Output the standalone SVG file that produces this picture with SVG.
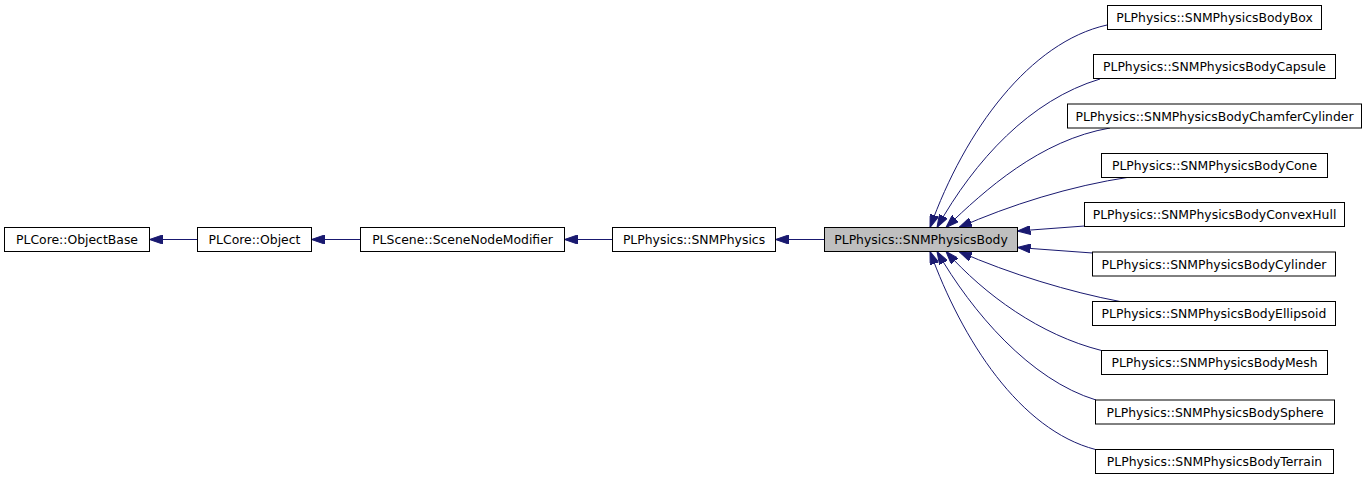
<svg xmlns="http://www.w3.org/2000/svg" width="1368" height="479" viewBox="0 0 1368 479">
<style>
  .node rect { fill: #ffffff; stroke: #000000; stroke-width: 1; }
  .node.cur rect { fill: #bfbfbf; }
  .node text { font-family: "DejaVu Sans", "Liberation Sans", sans-serif; font-size: 12.4px; fill: #000000; text-anchor: middle; }
  .edges path { fill: none; stroke: #191970; stroke-width: 1; marker-end: url(#arr); }
</style>
<defs>
  <marker id="arr" viewBox="0 0 13 9" refX="13" refY="4.5" markerWidth="13" markerHeight="9" markerUnits="userSpaceOnUse" orient="auto">
    <path d="M0,0 L13,4.5 L0,9 z" fill="#191970" stroke="#191970" stroke-width="1"/>
  </marker>
</defs>
<rect width="1368" height="479" fill="#ffffff"/>
<g class="edges">
  <path d="M197.5,239.5 L149.5,239.5"/>
  <path d="M360.5,239.5 L311.5,239.5"/>
  <path d="M612.5,239.5 L564.5,239.5"/>
  <path d="M824.5,239.5 L775.5,239.5"/>
  <path d="M1107,25 C1030,42 965,130 930,227.5"/>
  <path d="M1100,79 C1030,100 975,160 937,227.5"/>
  <path d="M1110,128 C1040,140 985,190 946,227.5"/>
  <path d="M1130,177 C1070,186 1010,205 959,227.5"/>
  <path d="M1084.5,226 L1017.5,231"/>
  <path d="M1092.5,253 L1017.5,247.5"/>
  <path d="M1120,301.5 C1070,292 1010,274 959,251.5"/>
  <path d="M1101.5,350.5 C1040,335 985,295 946,251.5"/>
  <path d="M1096,400 C1030,380 972,312 937,251.5"/>
  <path d="M1095.5,449.5 C1020,430 962,340 930,251.5"/>
</g>
<g id="node-objectbase" class="node"><rect x="4.5" y="227.5" width="145" height="24"/><text x="77" y="244">PLCore::ObjectBase</text></g>
<g id="node-object" class="node"><rect x="197.5" y="227.5" width="114" height="24"/><text x="254.5" y="244">PLCore::Object</text></g>
<g id="node-scenenodemodifier" class="node"><rect x="360.5" y="227.5" width="204" height="24"/><text x="462.5" y="244">PLScene::SceneNodeModifier</text></g>
<g id="node-snmphysics" class="node"><rect x="612.5" y="227.5" width="163" height="24"/><text x="694" y="244">PLPhysics::SNMPhysics</text></g>
<g id="node-snmphysicsbody" class="node cur"><rect x="824.5" y="227.5" width="193" height="24"/><text x="921" y="244">PLPhysics::SNMPhysicsBody</text></g>
<g id="node-box" class="node"><rect x="1107.5" y="5.5" width="214" height="24"/><text x="1214.5" y="22">PLPhysics::SNMPhysicsBodyBox</text></g>
<g id="node-capsule" class="node"><rect x="1093.5" y="54.5" width="242" height="24"/><text x="1214.5" y="71">PLPhysics::SNMPhysicsBodyCapsule</text></g>
<g id="node-chamfercylinder" class="node"><rect x="1067.5" y="104" width="294" height="24"/><text x="1214.5" y="120.5">PLPhysics::SNMPhysicsBodyChamferCylinder</text></g>
<g id="node-cone" class="node"><rect x="1101.5" y="153.5" width="226" height="24"/><text x="1214.5" y="170">PLPhysics::SNMPhysicsBodyCone</text></g>
<g id="node-convexhull" class="node"><rect x="1084.5" y="202.5" width="260" height="24"/><text x="1214.5" y="219">PLPhysics::SNMPhysicsBodyConvexHull</text></g>
<g id="node-cylinder" class="node"><rect x="1092.5" y="252" width="243" height="24"/><text x="1214" y="268.5">PLPhysics::SNMPhysicsBodyCylinder</text></g>
<g id="node-ellipsoid" class="node"><rect x="1092.5" y="301.5" width="243" height="24"/><text x="1214" y="318">PLPhysics::SNMPhysicsBodyEllipsoid</text></g>
<g id="node-mesh" class="node"><rect x="1101.5" y="350.5" width="226" height="24"/><text x="1214.5" y="367">PLPhysics::SNMPhysicsBodyMesh</text></g>
<g id="node-sphere" class="node"><rect x="1095.5" y="400" width="239" height="24"/><text x="1215" y="416.5">PLPhysics::SNMPhysicsBodySphere</text></g>
<g id="node-terrain" class="node"><rect x="1095.5" y="449.5" width="238" height="24"/><text x="1214.5" y="466">PLPhysics::SNMPhysicsBodyTerrain</text></g>
</svg>
